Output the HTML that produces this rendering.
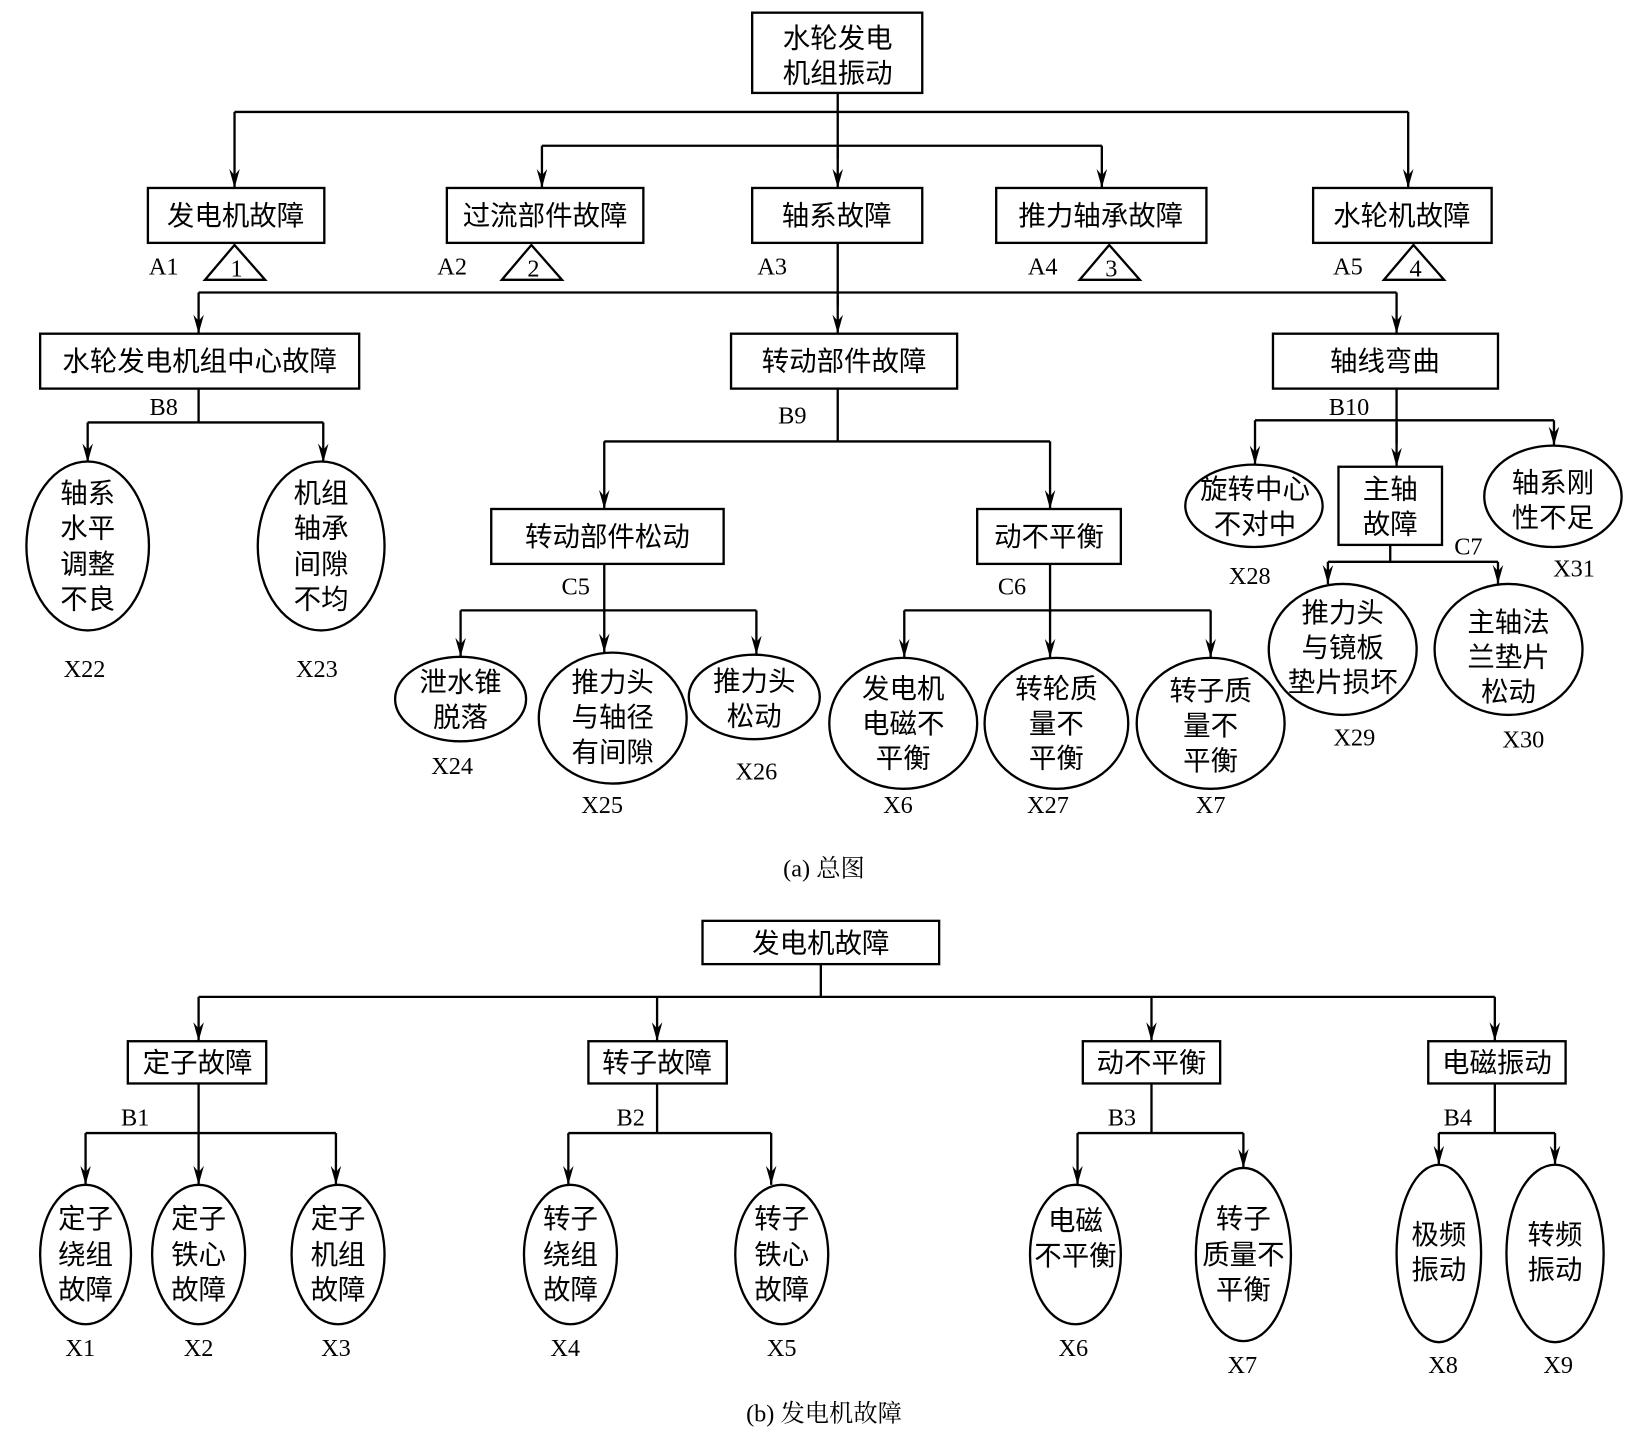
<!DOCTYPE html>
<html><head><meta charset="utf-8"><style>
html,body{margin:0;padding:0;background:#fff}
svg{display:block}
.c{font-family:"Liberation Serif","Noto Sans CJK SC",serif;font-size:26px;fill:#000;text-anchor:middle}
.l{font-family:"Liberation Serif","Noto Serif CJK SC",serif;font-size:23px;fill:#000;text-anchor:middle}
</style></head><body>
<svg width="1648" height="1433" viewBox="0 0 1560 1357" preserveAspectRatio="none" xmlns="http://www.w3.org/2000/svg">
<defs><marker id="a" markerWidth="18" markerHeight="10" refX="18" refY="5" orient="auto" markerUnits="userSpaceOnUse" viewBox="0 0 18 10"><path d="M0,0 L18,5 L0,10 L6,5 Z" fill="#000"/></marker></defs>
<g stroke="#000" stroke-width="2.2" fill="none">
<!-- top -->
<rect x="712" y="12" width="161" height="76"/>
<path d="M222,106 H1333 M513,138 H1043 M793,88 V150"/>
<g marker-end="url(#a)">
<line x1="222" y1="106" x2="222" y2="178"/><line x1="1333" y1="106" x2="1333" y2="178"/>
<line x1="513" y1="138" x2="513" y2="178"/><line x1="1043" y1="138" x2="1043" y2="178"/>
<line x1="793" y1="140" x2="793" y2="178"/>
</g>
<rect x="140" y="178" width="167" height="52"/><rect x="423" y="178" width="186" height="52"/><rect x="712" y="178" width="161" height="52"/><rect x="943" y="178" width="199" height="52"/><rect x="1243" y="178" width="169" height="52"/>
<path d="M194,265 L222,232 L251,265 Z M475,265 L503,232 L532,265 Z M1022,265 L1050,232 L1079,265 Z M1310,265 L1338,232 L1367,265 Z"/>
<path d="M793,230 V290 M188,277 H1322"/>
<g marker-end="url(#a)">
<line x1="188" y1="277" x2="188" y2="316"/><line x1="1322" y1="277" x2="1322" y2="316"/><line x1="793" y1="280" x2="793" y2="316"/>
</g>
<rect x="38" y="316" width="302" height="52"/><rect x="692" y="316" width="214" height="52"/><rect x="1205" y="316" width="213" height="52"/>
<!-- B8 -->
<path d="M188,368 V400 M83,400 H306"/>
<g marker-end="url(#a)">
<line x1="83" y1="400" x2="83" y2="438"/><line x1="306" y1="400" x2="306" y2="438"/>
</g>
<ellipse cx="83" cy="517" rx="58" ry="80"/><ellipse cx="304" cy="517" rx="60" ry="80"/>
<!-- B9 -->
<path d="M793,368 V418 M572,418 H994"/>
<g marker-end="url(#a)">
<line x1="572" y1="418" x2="572" y2="482"/><line x1="994" y1="418" x2="994" y2="482"/>
</g>
<rect x="465" y="482" width="220" height="52"/><rect x="925" y="482" width="136" height="52"/>
<path d="M572,534 V580 M436,578 H716 M994,534 V580 M856,578 H1146"/>
<g marker-end="url(#a)">
<line x1="436" y1="578" x2="436" y2="622"/><line x1="716" y1="578" x2="716" y2="620"/><line x1="572" y1="578" x2="572" y2="618"/>
<line x1="856" y1="578" x2="856" y2="623"/><line x1="994" y1="578" x2="994" y2="623"/><line x1="1146" y1="578" x2="1146" y2="623"/>
</g>
<ellipse cx="436" cy="662" rx="62" ry="40"/><ellipse cx="580" cy="680" rx="70" ry="62"/><ellipse cx="714" cy="660" rx="62" ry="40"/>
<ellipse cx="855" cy="685" rx="70" ry="62"/><ellipse cx="1000" cy="685" rx="68" ry="62"/><ellipse cx="1146" cy="685" rx="70" ry="62"/>
<!-- B10 -->
<path d="M1322,368 V420 M1188,398 H1471"/>
<g marker-end="url(#a)">
<line x1="1188" y1="398" x2="1188" y2="440"/><line x1="1471" y1="398" x2="1471" y2="422"/><line x1="1322" y1="400" x2="1322" y2="442"/>
</g>
<ellipse cx="1187" cy="479" rx="65" ry="39"/><rect x="1267" y="442" width="98" height="74"/><ellipse cx="1470" cy="470" rx="65" ry="48"/>
<path d="M1316,516 V532 M1257,532 H1418"/>
<g marker-end="url(#a)">
<line x1="1257" y1="532" x2="1257" y2="553"/><line x1="1418" y1="532" x2="1418" y2="553"/>
</g>
<ellipse cx="1271" cy="615" rx="70" ry="62"/><ellipse cx="1428" cy="615" rx="70" ry="62"/>
<!-- part b -->
<rect x="665" y="872" width="224" height="41"/>
<path d="M777,913 V944 M188,944 H1415"/>
<g marker-end="url(#a)">
<line x1="188" y1="944" x2="188" y2="986"/><line x1="622" y1="944" x2="622" y2="986"/><line x1="1090" y1="944" x2="1090" y2="986"/><line x1="1415" y1="944" x2="1415" y2="986"/>
</g>
<rect x="121" y="986" width="131" height="40"/><rect x="557" y="986" width="131" height="40"/><rect x="1025" y="986" width="130" height="40"/><rect x="1352" y="986" width="130" height="40"/>
<path d="M188,1026 V1073 M81,1073 H318 M622,1026 V1073 M538,1073 H730 M1090,1026 V1073 M1020,1073 H1177 M1415,1026 V1073 M1362,1073 H1472"/>
<g marker-end="url(#a)">
<line x1="81" y1="1073" x2="81" y2="1122"/><line x1="188" y1="1073" x2="188" y2="1122"/><line x1="318" y1="1073" x2="318" y2="1122"/>
<line x1="538" y1="1073" x2="538" y2="1122"/><line x1="730" y1="1073" x2="730" y2="1122"/>
<line x1="1020" y1="1073" x2="1020" y2="1122"/><line x1="1177" y1="1073" x2="1177" y2="1106"/>
<line x1="1362" y1="1073" x2="1362" y2="1103"/><line x1="1472" y1="1073" x2="1472" y2="1103"/>
</g>
<ellipse cx="81" cy="1188" rx="43" ry="66"/><ellipse cx="188" cy="1188" rx="44" ry="66"/><ellipse cx="320" cy="1188" rx="44" ry="66"/>
<ellipse cx="540" cy="1188" rx="44" ry="66"/><ellipse cx="740" cy="1188" rx="44" ry="66"/>
<ellipse cx="1018" cy="1188" rx="43" ry="66"/><ellipse cx="1177" cy="1188" rx="45" ry="82"/>
<ellipse cx="1362" cy="1187" rx="40" ry="84"/><ellipse cx="1472" cy="1187" rx="46" ry="84"/>
</g>
<g class="c">
<text x="793" y="45">水轮发电</text><text x="793" y="78">机组振动</text>
<text x="223" y="213">发电机故障</text><text x="516" y="213">过流部件故障</text><text x="792" y="213">轴系故障</text><text x="1042" y="213">推力轴承故障</text><text x="1327" y="213">水轮机故障</text>
<text x="189" y="351">水轮发电机组中心故障</text><text x="799" y="351">转动部件故障</text><text x="1311" y="351">轴线弯曲</text>
<text x="83" y="476">轴系</text><text x="83" y="509">水平</text><text x="83" y="543">调整</text><text x="83" y="576">不良</text>
<text x="304" y="476">机组</text><text x="304" y="509">轴承</text><text x="304" y="543">间隙</text><text x="304" y="576">不均</text>
<text x="575" y="517">转动部件松动</text><text x="993" y="517">动不平衡</text>
<text x="436" y="655">泄水锥</text><text x="436" y="688">脱落</text>
<text x="580" y="655">推力头</text><text x="580" y="688">与轴径</text><text x="580" y="721">有间隙</text>
<text x="714" y="654">推力头</text><text x="714" y="687">松动</text>
<text x="855" y="661">发电机</text><text x="855" y="694">电磁不</text><text x="855" y="727">平衡</text>
<text x="1000" y="661">转轮质</text><text x="1000" y="694">量不</text><text x="1000" y="727">平衡</text>
<text x="1146" y="663">转子质</text><text x="1146" y="696">量不</text><text x="1146" y="729">平衡</text>
<text x="1188" y="472">旋转中心</text><text x="1188" y="505">不对中</text>
<text x="1316" y="472">主轴</text><text x="1316" y="505">故障</text>
<text x="1470" y="466">轴系刚</text><text x="1470" y="499">性不足</text>
<text x="1271" y="589">推力头</text><text x="1271" y="622">与镜板</text><text x="1271" y="655">垫片损坏</text>
<text x="1428" y="598">主轴法</text><text x="1428" y="631">兰垫片</text><text x="1428" y="664">松动</text>
<text x="777" y="902">发电机故障</text>
<text x="187" y="1015">定子故障</text><text x="622" y="1015">转子故障</text><text x="1090" y="1015">动不平衡</text><text x="1417" y="1015">电磁振动</text>
<text x="81" y="1163">定子</text><text x="81" y="1197">绕组</text><text x="81" y="1230">故障</text>
<text x="188" y="1163">定子</text><text x="188" y="1197">铁心</text><text x="188" y="1230">故障</text>
<text x="320" y="1163">定子</text><text x="320" y="1197">机组</text><text x="320" y="1230">故障</text>
<text x="540" y="1163">转子</text><text x="540" y="1197">绕组</text><text x="540" y="1230">故障</text>
<text x="740" y="1163">转子</text><text x="740" y="1197">铁心</text><text x="740" y="1230">故障</text>
<text x="1018" y="1165">电磁</text><text x="1018" y="1198">不平衡</text>
<text x="1177" y="1163">转子</text><text x="1177" y="1197">质量不</text><text x="1177" y="1230">平衡</text>
<text x="1362" y="1178">极频</text><text x="1362" y="1211">振动</text>
<text x="1472" y="1178">转频</text><text x="1472" y="1211">振动</text>
</g>
<g class="l">
<text x="155" y="260">A1</text><text x="224" y="262">1</text>
<text x="428" y="260">A2</text><text x="505" y="262">2</text>
<text x="731" y="260">A3</text>
<text x="987" y="260">A4</text><text x="1052" y="262">3</text>
<text x="1276" y="260">A5</text><text x="1340" y="262">4</text>
<text x="155" y="393">B8</text><text x="750" y="401">B9</text><text x="1277" y="393">B10</text>
<text x="545" y="563">C5</text><text x="958" y="563">C6</text><text x="1390" y="525">C7</text>
<text x="80" y="641">X22</text><text x="300" y="641">X23</text>
<text x="428" y="733">X24</text><text x="570" y="770">X25</text><text x="716" y="738">X26</text>
<text x="850" y="770">X6</text><text x="992" y="770">X27</text><text x="1146" y="770">X7</text>
<text x="1183" y="553">X28</text><text x="1490" y="546">X31</text><text x="1282" y="706">X29</text><text x="1442" y="708">X30</text>
<text x="780" y="830">(a)  总图</text>
<text x="128" y="1066">B1</text><text x="597" y="1066">B2</text><text x="1062" y="1066">B3</text><text x="1380" y="1066">B4</text>
<text x="76" y="1284">X1</text><text x="188" y="1284">X2</text><text x="318" y="1284">X3</text><text x="535" y="1284">X4</text><text x="740" y="1284">X5</text>
<text x="1016" y="1284">X6</text><text x="1176" y="1300">X7</text><text x="1366" y="1300">X8</text><text x="1475" y="1300">X9</text>
<text x="780" y="1346">(b)  发电机故障</text>
</g>
</svg>
</body></html>
